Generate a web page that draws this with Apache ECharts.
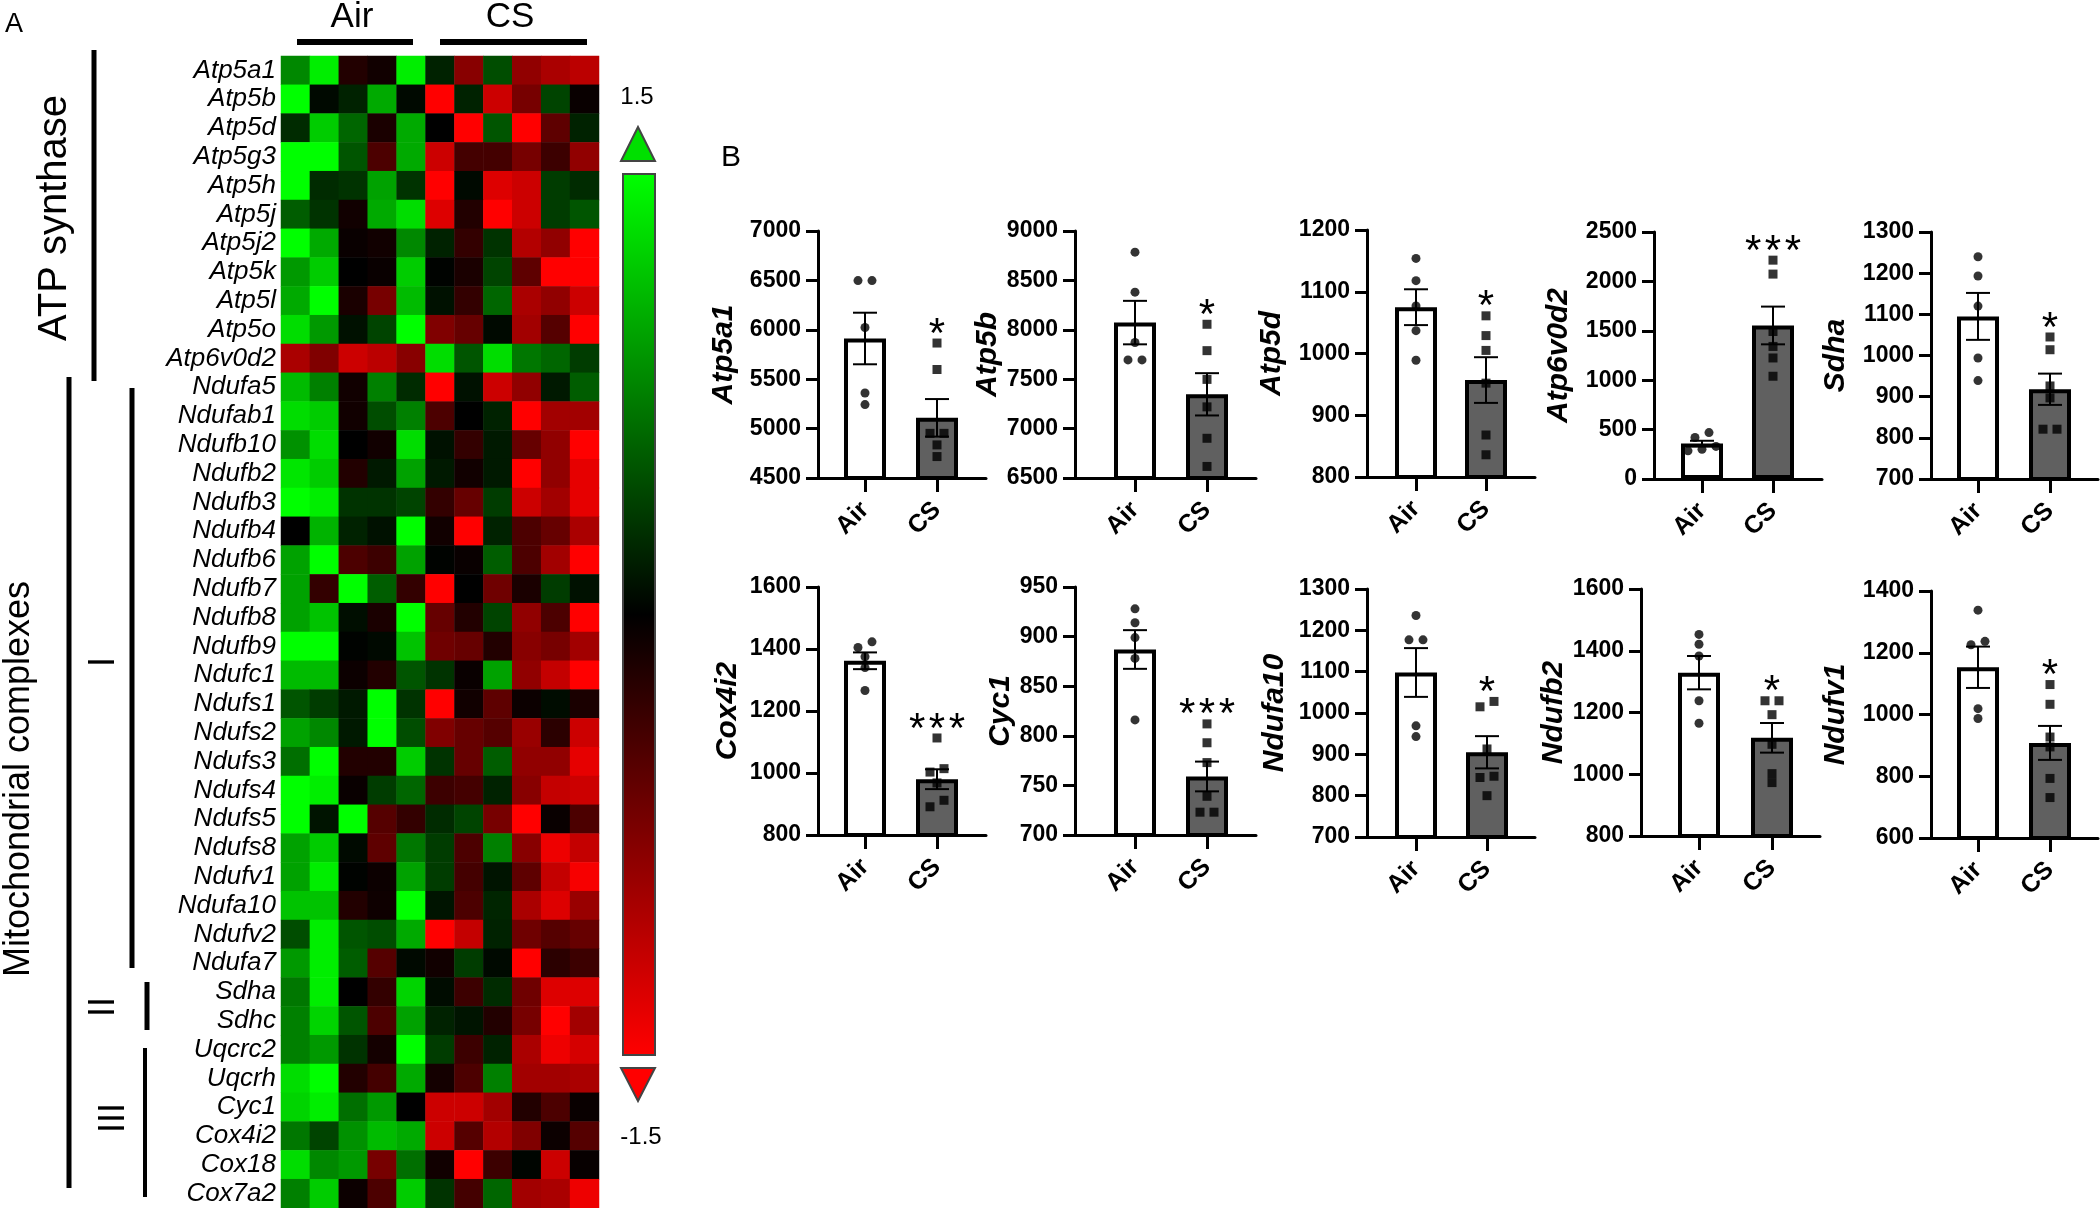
<!DOCTYPE html>
<html><head><meta charset="utf-8">
<script src="https://cdn.jsdelivr.net/npm/echarts@6/dist/echarts.min.js"></script>
<style>html,body{margin:0;padding:0;background:#fff}#c{width:2100px;height:1208px}</style>
</head><body><div id="c"></div>
<script>
// ---------- DATA ----------
const genes = ['Atp5a1','Atp5b','Atp5d','Atp5g3','Atp5h','Atp5j','Atp5j2','Atp5k','Atp5l','Atp5o','Atp6v0d2',
 'Ndufa5','Ndufab1','Ndufb10','Ndufb2','Ndufb3','Ndufb4','Ndufb6','Ndufb7','Ndufb8','Ndufb9','Ndufc1',
 'Ndufs1','Ndufs2','Ndufs3','Ndufs4','Ndufs5','Ndufs8','Ndufv1','Ndufa10','Ndufv2','Ndufa7',
 'Sdha','Sdhc','Uqcrc2','Uqcrh','Cyc1','Cox4i2','Cox18','Cox7a2'];
const samples = ['Air1','Air2','Air3','Air4','Air5','CS1','CS2','CS3','CS4','CS5','CS6'];
const heatValues = [
 [0.8, 1.4, -0.2, -0.1, 1.4, 0.2, -0.8, 0.45, -0.85, -1.0, -1.1],
 [1.5, 0.05, 0.2, 1.0, 0.05, -1.5, 0.2, -1.2, -0.7, 0.4, -0.05],
 [0.25, 1.2, 0.6, -0.15, 1.0, 0, -1.5, 0.5, -1.5, -0.55, 0.2],
 [1.5, 1.5, 0.5, -0.45, 1.0, -1.2, -0.4, -0.4, -0.7, -0.35, -0.85],
 [1.5, 0.25, 0.3, 0.95, 0.3, -1.5, 0.05, -1.3, -1.2, 0.35, 0.25],
 [0.55, 0.3, -0.1, 1.0, 1.3, -1.3, -0.2, -1.5, -1.2, 0.35, 0.5],
 [1.5, 1.0, -0.05, -0.1, 0.8, 0.2, -0.3, 0.3, -1.05, -0.85, -1.5],
 [0.9, 1.2, 0, -0.05, 1.2, 0.02, -0.15, 0.4, -0.55, -1.5, -1.5],
 [1.0, 1.5, -0.15, -0.7, 1.1, 0.1, -0.3, 0.6, -1.0, -0.85, -1.2],
 [1.3, 0.9, 0.1, 0.4, 1.5, -0.75, -0.6, 0.05, -0.95, -0.5, -1.5],
 [-1.0, -0.75, -1.2, -1.1, -0.8, 1.3, 0.5, 1.3, 0.7, 0.6, 0.35],
 [1.1, 0.75, -0.1, 0.75, 0.25, -1.5, 0.1, -1.2, -0.85, 0.15, 0.55],
 [1.3, 1.2, -0.1, 0.45, 0.75, -0.45, 0, 0.2, -1.5, -0.95, -0.95],
 [0.85, 1.3, 0, -0.1, 1.3, 0.1, -0.3, 0.15, -0.6, -0.85, -1.5],
 [1.35, 1.2, -0.2, 0.15, 0.95, 0.15, -0.1, 0.15, -1.5, -0.85, -1.35],
 [1.5, 1.4, 0.3, 0.3, 0.4, -0.3, -0.6, 0.35, -1.2, -0.95, -1.35],
 [0, 1.05, 0.2, 0.1, 1.5, -0.1, -1.5, 0.2, -0.45, -0.6, -1.0],
 [0.95, 1.5, -0.45, -0.35, 0.95, 0.02, -0.05, 0.55, -0.45, -0.95, -1.5],
 [0.95, -0.3, 1.5, 0.55, -0.3, -1.5, 0, -0.65, -0.15, 0.35, 0.1],
 [0.95, 1.15, 0.08, -0.15, 1.5, -0.6, -0.2, 0.4, -0.85, -0.45, -1.5],
 [1.5, 1.5, 0.02, 0.05, 1.15, -0.65, -0.6, -0.2, -0.8, -0.7, -0.95],
 [1.1, 1.1, -0.07, -0.2, 0.5, 0.3, -0.05, 0.95, -0.85, -1.15, -1.5],
 [0.5, 0.35, 0.15, 1.5, 0.3, -1.5, -0.1, -0.55, -0.07, 0.07, -0.15],
 [0.95, 0.8, 0.15, 1.5, 0.45, -0.75, -0.6, -0.5, -0.9, -0.25, -1.2],
 [0.65, 1.5, -0.2, -0.2, 1.2, 0.3, -0.6, 0.55, -0.85, -0.85, -1.35],
 [1.5, 1.4, -0.05, 0.35, 0.6, -0.35, -0.4, 0.2, -0.8, -1.15, -1.2],
 [1.5, 0.12, 1.5, -0.5, -0.3, 0.25, 0.4, -0.7, -1.5, -0.05, -0.45],
 [0.95, 1.2, 0.06, -0.55, 0.7, 0.35, -0.45, 0.75, -0.8, -1.4, -1.15],
 [0.95, 1.4, 0.02, -0.07, 0.95, 0.35, -0.4, 0.12, -0.55, -1.15, -1.45],
 [1.15, 1.15, -0.2, -0.08, 1.5, 0.12, -0.45, 0.22, -1.0, -1.3, -0.9],
 [0.45, 1.4, 0.5, 0.45, 1.0, -1.5, -1.15, 0.2, -0.65, -0.5, -0.6],
 [0.9, 1.4, 0.55, -0.5, 0.05, -0.1, 0.35, 0.05, -1.5, -0.25, -0.35],
 [0.7, 1.4, 0, -0.3, 1.25, 0.07, -0.35, 0.25, -0.65, -1.3, -1.3],
 [0.75, 1.25, 0.5, -0.45, 0.95, 0.2, 0.12, -0.2, -0.7, -1.5, -0.95],
 [0.75, 0.9, 0.3, -0.12, 1.5, 0.35, -0.35, 0.2, -1.0, -1.4, -1.25],
 [1.3, 1.5, -0.2, -0.4, 1.0, -0.12, -0.45, 0.75, -0.95, -0.95, -1.0],
 [1.25, 1.4, 0.65, 0.9, 0, -1.2, -1.2, -0.95, -0.2, -0.45, -0.05],
 [0.7, 0.4, 0.85, 1.1, 1.0, -1.2, -0.5, -1.05, -0.75, -0.07, -0.5],
 [1.3, 0.8, 0.9, -0.7, 0.65, -0.1, -1.5, -0.35, 0.03, -1.2, -0.04],
 [0.75, 1.2, -0.07, -0.45, 1.2, 0.3, -0.4, 0.6, -0.95, -1.0, -1.4]
];
const colorScaleMin = -1.5, colorScaleMax = 1.5;

const chartGenes = ['Atp5a1','Atp5b','Atp5d','Atp6v0d2','Sdha','Cox4i2','Cyc1','Ndufa10','Ndufb2','Ndufv1'];
const groups = ['Air','CS'];
const airMean = [5912, 8073, 1075, 359, 1095, 1362, 887, 1098, 1329, 1153];
const airSem  = [261, 220, 29, 28, 57, 27, 19.5, 59, 54, 67];
const csMean  = [5109, 7347, 957, 1554, 918, 980, 759, 905, 1118, 908];
const csSem   = [190, 214, 37, 191, 38, 32, 15, 39, 48, 55];
const airPoints = [
 [6498, 6498, 6023, 5360, 5243],
 [8786, 8381, 7872, 7695, 7695],
 [1154, 1118, 1077, 1037, 989],
 [470, 420, 330, 300, 285],
 [1240, 1193, 1120, 994, 939],
 [1423, 1405, 1375, 1340, 1266],
 [928, 914, 899, 878, 816],
 [1236, 1177, 1177, 969, 943],
 [1453, 1421, 1383, 1238, 1165],
 [1338, 1237, 1226, 1019, 987]
];
const csPoints = [
 [5866, 5598, 4952, 4952, 4835, 4717],
 [8056, 7789, 7498, 7220, 6902, 6617],
 [1061, 1029, 1005, 952, 868, 836],
 [2215, 2074, 1493, 1342, 1225, 1040],
 [1045, 1014, 926, 897, 821, 821],
 [1113, 1014, 1003, 968, 912, 891],
 [812, 793, 773, 739, 723, 723],
 [1028, 1015, 913, 847, 844, 800],
 [1238, 1238, 1193, 1097, 1002, 973],
 [1097, 1033, 927, 895, 793, 731]
];
const sigLabels = ['*','*','*','***','*','***','***','*','*','*'];
const yMin  = [4500, 6500, 800, 0, 700, 800, 700, 700, 800, 600];
const yMax  = [7000, 9000, 1200, 2500, 1300, 1600, 950, 1300, 1600, 1400];
const yStep = [500, 500, 100, 500, 100, 200, 50, 100, 200, 200];

// ---------- LAYOUT (pixels) ----------
const panels = [
 {ax:818, air:865, cs:937, end:986, top:231, bot:478, gap:79},
 {ax:1075, air:1135, cs:1207, end:1256, top:231, bot:478, gap:66},
 {ax:1367, air:1416, cs:1486, end:1535, top:230, bot:477, gap:80},
 {ax:1654, air:1702, cs:1773, end:1822, top:232, bot:479, gap:80},
 {ax:1931, air:1978, cs:2050, end:2098, top:232, bot:479, gap:80},
 {ax:818, air:865, cs:937, end:986, top:587, bot:835, gap:75},
 {ax:1075, air:1135, cs:1207, end:1256, top:587, bot:835, gap:44},
 {ax:1367, air:1416, cs:1487, end:1535, top:589, bot:837, gap:77},
 {ax:1641, air:1699, cs:1772, end:1820, top:589, bot:836, gap:64},
 {ax:1931, air:1978, cs:2050, end:2098, top:591, bot:838, gap:80}
];
const FONT = '"Liberation Sans", Arial, sans-serif';

function jitter(vals, range, hPx) {
  const idx = vals.map((v, i) => i).sort((a, b) => vals[a] - vals[b]);
  const offs = vals.map(() => 0);
  let cl = [idx[0]];
  const flush = () => { const n = cl.length; cl.forEach((k, j) => { offs[k] = (j - (n - 1) / 2) * 14; }); };
  for (let i = 1; i < idx.length; i++) {
    if ((vals[idx[i]] - vals[idx[i - 1]]) / range * hPx < 7) cl.push(idx[i]);
    else { flush(); cl = [idx[i]]; }
  }
  flush();
  return offs;
}

const grid = [{left: 281, top: 56, width: 318, height: 1152}];
const xAxis = [{type: 'category', gridIndex: 0, data: samples, show: false}];
const yAxis = [{type: 'category', gridIndex: 0, data: genes, inverse: true,
  axisLine: {show: false}, axisTick: {show: false},
  axisLabel: {interval: 0, fontStyle: 'italic', fontSize: 26, color: '#000', margin: 5, fontFamily: FONT}}];
const heatData = [];
heatValues.forEach((row, r) => row.forEach((v, c) => heatData.push([c, r, v])));
const series = [{type: 'heatmap', xAxisIndex: 0, yAxisIndex: 0, data: heatData, itemStyle: {borderWidth: 0}}];

chartGenes.forEach((g, i) => {
  const p = panels[i];
  const u = p.cs - p.air;
  const gi = i + 1;
  grid.push({left: p.ax, top: p.top, width: p.end - p.ax, height: p.bot - p.top});
  xAxis.push({type: 'value', gridIndex: gi, min: 1 - (p.air - p.ax) / u, max: 2 + (p.end - p.cs) / u,
    axisLine: {show: true, onZero: false, lineStyle: {color: '#000', width: 3}},
    axisTick: {show: true, customValues: [1, 2], length: 14, lineStyle: {color: '#000', width: 3}},
    axisLabel: {show: true, customValues: [1, 2], formatter: v => groups[Math.round(v) - 1], rotate: 45,
      fontSize: 25, fontWeight: 'bold', color: '#000', margin: 28, fontFamily: FONT},
    splitLine: {show: false}});
  yAxis.push({type: 'value', gridIndex: gi, min: yMin[i], max: yMax[i], interval: yStep[i],
    name: g, nameLocation: 'middle', nameRotate: 90, nameGap: p.gap,
    nameTextStyle: {fontSize: 30, fontWeight: 'bold', fontStyle: 'italic', color: '#000', fontFamily: FONT},
    axisLine: {show: true, onZero: false, lineStyle: {color: '#000', width: 3}},
    axisTick: {show: true, length: 12, lineStyle: {color: '#000', width: 3}},
    axisLabel: {fontSize: 23, fontWeight: 'bold', color: '#000', margin: 17, fontFamily: FONT, formatter: v => String(v)},
    splitLine: {show: false}});
  series.push({type: 'bar', xAxisIndex: gi, yAxisIndex: gi, barWidth: 42, clip: true, z: 2,
    data: [{value: [1, airMean[i]], itemStyle: {color: '#ffffff'}}, {value: [2, csMean[i]], itemStyle: {color: '#606060'}}],
    itemStyle: {borderColor: '#000', borderWidth: 4}});
  series.push({type: 'custom', xAxisIndex: gi, yAxisIndex: gi, z: 4, clip: false,
    data: [[1, airMean[i], airSem[i]], [2, csMean[i], csSem[i]]],
    renderItem: (params, api) => {
      const x = api.value(0), m = api.value(1), s = api.value(2);
      const t = api.coord([x, m + s]), b = api.coord([x, m - s]);
      const hw = 12, st = {stroke: '#000', lineWidth: 2};
      return {type: 'group', children: [
        {type: 'line', shape: {x1: t[0], y1: t[1], x2: b[0], y2: b[1]}, style: st},
        {type: 'line', shape: {x1: t[0] - hw, y1: t[1], x2: t[0] + hw, y2: t[1]}, style: st},
        {type: 'line', shape: {x1: b[0] - hw, y1: b[1], x2: b[0] + hw, y2: b[1]}, style: st}
      ]};
    }});
  const range = yMax[i] - yMin[i], h = p.bot - p.top;
  const ja = jitter(airPoints[i], range, h), jc = jitter(csPoints[i], range, h);
  series.push({type: 'scatter', xAxisIndex: gi, yAxisIndex: gi, z: 5, symbol: 'circle', symbolSize: 9,
    itemStyle: {color: '#000'}, data: airPoints[i].map((v, k) => ({value: [1, v], symbolOffset: [ja[k], 0]}))});
  series.push({type: 'scatter', xAxisIndex: gi, yAxisIndex: gi, z: 5, symbol: 'rect', symbolSize: 9,
    itemStyle: {color: '#000'}, data: csPoints[i].map((v, k) => ({value: [2, v], symbolOffset: [jc[k], 0]}))});
  const topVal = Math.max(Math.max(...csPoints[i]), csMean[i] + csSem[i]);
  series.push({type: 'custom', xAxisIndex: gi, yAxisIndex: gi, z: 6, clip: false,
    data: [[2, topVal]],
    renderItem: (params, api) => {
      const c = api.coord([api.value(0), api.value(1)]);
      return {type: 'text', x: c[0], y: c[1] - 8,
        style: {text: sigLabels[i].split('').join('\u200A'), fontSize: 42, fontFamily: FONT, fill: '#000',
          align: 'center', verticalAlign: 'middle'}};
    }});
});

const txt = (x, y, text, size, extra) => Object.assign({type: 'text', x, y,
  style: Object.assign({text, fontSize: size, fontFamily: FONT, fill: '#000', align: 'center', verticalAlign: 'middle'}, (extra || {}).style || {})},
  extra ? {rotation: extra.rotation || 0} : {});
const vline = (x, y1, y2, w) => ({type: 'line', shape: {x1: x, y1, x2: x, y2}, style: {stroke: '#000', lineWidth: w}});

const graphic = [
  txt(14, 25, 'A', 27),
  txt(731, 158, 'B', 30),
  txt(352, 17, 'Air', 35),
  txt(510, 17, 'CS', 35),
  {type: 'rect', shape: {x: 297, y: 39, width: 116, height: 6}, style: {fill: '#000'}},
  {type: 'rect', shape: {x: 440, y: 39, width: 147, height: 6}, style: {fill: '#000'}},
  vline(94, 50, 381, 5),
  vline(69, 377, 1188, 5),
  vline(132, 388, 968, 5),
  vline(147, 982, 1030, 5),
  vline(145, 1048, 1197, 4),
  txt(55, 218, 'ATP synthase', 40, {rotation: Math.PI / 2}),
  txt(19, 779, 'Mitochondrial complexes', 36, {rotation: Math.PI / 2}),
  txt(104, 662, 'I', 36, {rotation: Math.PI / 2}),
  txt(104, 1007, 'II', 36, {rotation: Math.PI / 2}),
  txt(114, 1118, 'III', 36, {rotation: Math.PI / 2}),
  {type: 'rect', shape: {x: 623, y: 174, width: 32, height: 881},
    style: {fill: new echarts.graphic.LinearGradient(0, 0, 0, 1, [
      {offset: 0, color: '#00ff00'}, {offset: 0.5, color: '#000000'}, {offset: 1, color: '#ff0000'}]),
      stroke: '#444', lineWidth: 2}},
  {type: 'polygon', shape: {points: [[638, 127], [621, 161], [655, 161]]}, style: {fill: '#00e000', stroke: '#444', lineWidth: 2}},
  {type: 'polygon', shape: {points: [[638, 1101], [621, 1068], [655, 1068]]}, style: {fill: '#ff0000', stroke: '#444', lineWidth: 2}},
  txt(637, 97, '1.5', 24),
  txt(641, 1137, '-1.5', 24)
];

const chart = echarts.init(document.getElementById('c'), null, {renderer: 'canvas'});
chart.setOption({
  animation: false,
  backgroundColor: '#fff',
  textStyle: {fontFamily: FONT},
  grid, xAxis, yAxis, series, graphic,
  visualMap: {type: 'continuous', show: false, seriesIndex: 0, min: colorScaleMin, max: colorScaleMax,
    inRange: {color: ['#ff0000', '#000000', '#00ff00']}}
});
</script></body></html>
